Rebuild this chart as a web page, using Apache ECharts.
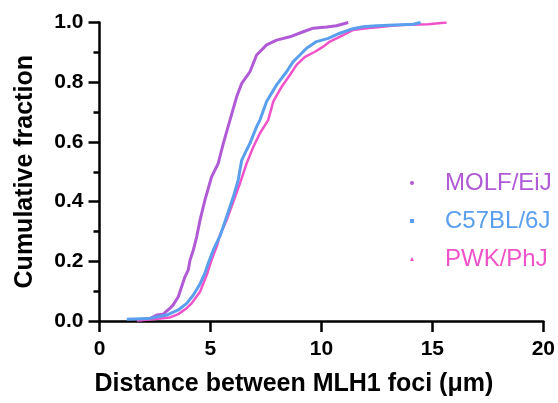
<!DOCTYPE html>
<html>
<head>
<meta charset="utf-8">
<script src="https://cdn.jsdelivr.net/npm/echarts@6/dist/echarts.min.js"></script>
<style>html,body{margin:0;padding:0;background:#fff;}#c{width:558px;height:403px;}</style>
</head>
<body>
<div id="c"></div>
<script>
// Values (distance in µm, cumulative fraction)
var seriesNames = ['MOLF/EiJ', 'C57BL/6J', 'PWK/PhJ'];

var molfDist = [1.82, 1.97, 2.27, 2.58, 2.87, 3.18, 3.32, 3.55, 3.70, 3.85, 4.00, 4.08, 4.23, 4.38, 4.53, 4.75, 5.05, 5.35, 5.58, 5.88, 6.18, 6.41, 6.78, 7.08, 7.53, 7.98, 8.58, 9.18, 9.63, 10.23, 10.68, 11.21];
var molfFrac = [0.003, 0.006, 0.008, 0.020, 0.023, 0.043, 0.054, 0.081, 0.115, 0.148, 0.171, 0.204, 0.238, 0.282, 0.338, 0.405, 0.483, 0.528, 0.595, 0.673, 0.751, 0.796, 0.835, 0.891, 0.925, 0.941, 0.952, 0.969, 0.981, 0.985, 0.989, 1.000];

var c57Dist = [1.23, 2.20, 3.03, 3.55, 3.93, 4.23, 4.53, 4.75, 4.90, 5.13, 5.43, 5.73, 6.03, 6.25, 6.41, 6.63, 6.78, 7.08, 7.23, 7.53, 7.98, 8.43, 8.73, 9.03, 9.33, 9.78, 10.31, 10.83, 11.36, 11.88, 12.49, 14.14, 14.47];
var c57Frac = [0.006, 0.008, 0.020, 0.037, 0.059, 0.087, 0.124, 0.160, 0.193, 0.238, 0.285, 0.349, 0.416, 0.472, 0.539, 0.573, 0.595, 0.651, 0.673, 0.735, 0.791, 0.835, 0.869, 0.891, 0.914, 0.936, 0.947, 0.964, 0.978, 0.986, 0.989, 0.994, 1.000];

var pwkDist = [1.68, 2.42, 3.18, 3.55, 3.93, 4.15, 4.53, 4.83, 5.05, 5.28, 5.43, 5.73, 6.03, 6.33, 6.63, 6.93, 7.23, 7.60, 7.83, 8.21, 8.58, 8.88, 9.26, 9.71, 10.08, 10.38, 10.98, 11.43, 12.04, 12.64, 13.16, 13.61, 14.81, 15.64];
var pwkFrac = [0.002, 0.006, 0.012, 0.023, 0.043, 0.059, 0.098, 0.154, 0.204, 0.249, 0.288, 0.338, 0.399, 0.461, 0.528, 0.583, 0.629, 0.673, 0.735, 0.785, 0.824, 0.858, 0.885, 0.902, 0.919, 0.936, 0.958, 0.975, 0.981, 0.985, 0.989, 0.992, 0.994, 1.000];

var xTicks = [0, 5, 10, 15, 20];
var yTicks = [0.0, 0.2, 0.4, 0.6, 0.8, 1.0];

function pairs(xs, ys) { return xs.map(function (x, i) { return [x, ys[i]]; }); }

var colors = ['#B05AD6', '#5A9FEE', '#F052CA'];
var icons = ['circle', 'rect', 'triangle'];
var font = '"Liberation Sans", Arial, Helvetica, sans-serif';

var chart = echarts.init(document.getElementById('c'));
chart.setOption({
  animation: false,
  textStyle: { fontFamily: font },
  grid: { left: 99.5, right: 14.5, top: 22.5, bottom: 82 },
  legend: {
    orient: 'vertical',
    left: 405, top: 166,
    itemWidth: 4, itemHeight: 4, itemGap: 14,
    data: seriesNames.map(function (n, i) {
      return { name: n, icon: icons[i], textStyle: { color: colors[i] } };
    }),
    textStyle: { fontSize: 24, fontFamily: font, padding: [0, 0, 0, 26] }
  },
  xAxis: {
    type: 'value', min: xTicks[0], max: xTicks[xTicks.length - 1], interval: 5,
    name: 'Distance between MLH1 foci (\u03bcm)',
    nameLocation: 'middle', nameGap: 51,
    nameTextStyle: { fontSize: 25, fontWeight: 'bold', color: '#000', fontFamily: font, padding: [0, 55, 0, 0] },
    axisLine: { lineStyle: { color: '#000', width: 2.5 } },
    axisTick: { length: 11, lineStyle: { color: '#000', width: 2.5 } },
    axisLabel: { fontSize: 21, fontWeight: 'bold', color: '#000', margin: 18, fontFamily: font },
    splitLine: { show: false }
  },
  yAxis: {
    type: 'value', min: yTicks[0], max: yTicks[yTicks.length - 1], interval: 0.2,
    name: 'Cumulative fraction',
    nameLocation: 'middle', nameGap: 62,
    nameTextStyle: { fontSize: 25, fontWeight: 'bold', color: '#000', fontFamily: font },
    axisLine: { show: true, lineStyle: { color: '#000', width: 2.5 } },
    axisTick: { show: true, length: 11, lineStyle: { color: '#000', width: 2.5 } },
    minorTick: { show: true, splitNumber: 2, length: 6, lineStyle: { color: '#000', width: 2.5 } },
    axisLabel: { fontSize: 21, fontWeight: 'bold', color: '#000', margin: 16, fontFamily: font,
      formatter: function (v) { return v.toFixed(1); } },
    splitLine: { show: false }
  },
  series: [
    { name: seriesNames[0], type: 'line', data: pairs(molfDist, molfFrac), showSymbol: false, symbol: icons[0],
      color: colors[0], lineStyle: { width: 3, color: colors[0] }, z: 2 },
    { name: seriesNames[1], type: 'line', data: pairs(c57Dist, c57Frac), showSymbol: false, symbol: icons[1],
      color: colors[1], lineStyle: { width: 3, color: colors[1] }, z: 4 },
    { name: seriesNames[2], type: 'line', data: pairs(pwkDist, pwkFrac), showSymbol: false, symbol: icons[2],
      color: colors[2], lineStyle: { width: 2.5, color: colors[2] }, z: 3 }
  ]
});
</script>
</body>
</html>
